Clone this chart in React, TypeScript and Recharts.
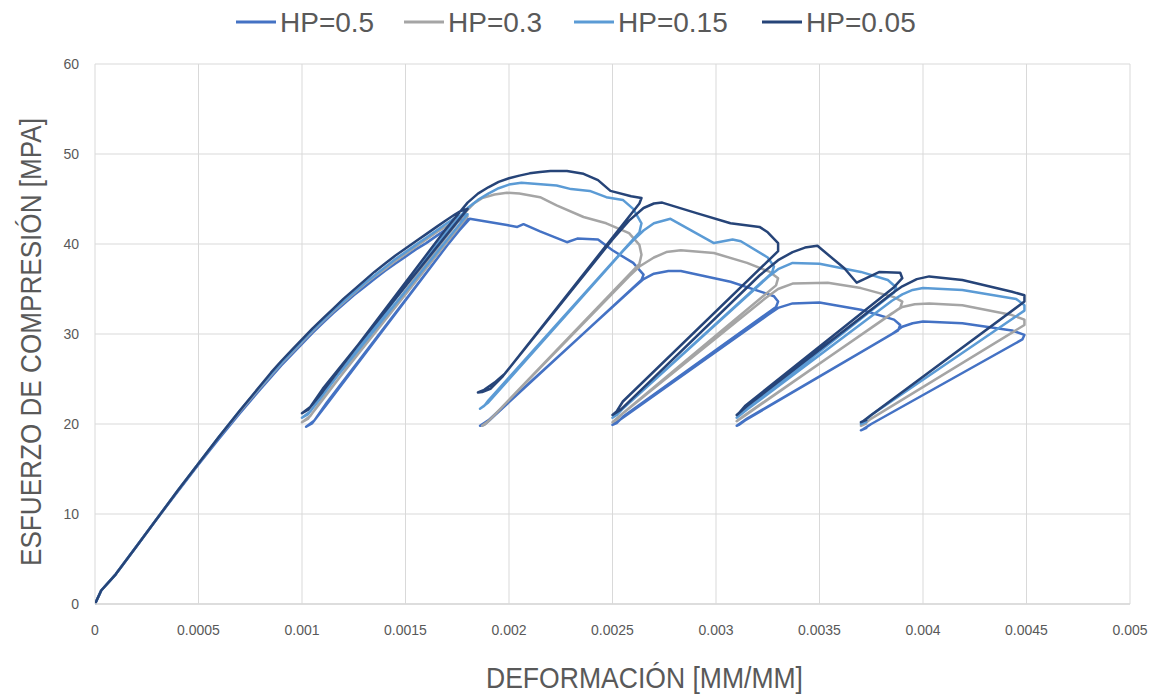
import React from 'react';
import { LineChart, Line, XAxis, YAxis, CartesianGrid } from 'recharts';

type Pt = [number, number];

// Strain axis ticks (mm/mm) and stress axis ticks (MPa)
const xTicks = [0, 0.0005, 0.001, 0.0015, 0.002, 0.0025, 0.003, 0.0035, 0.004, 0.0045, 0.005];
const yTicks = [0, 10, 20, 30, 40, 50, 60];

const seriesNames = ['HP=0.5', 'HP=0.3', 'HP=0.15', 'HP=0.05'];
const seriesColors = ['#4472C4', '#A5A5A5', '#5B9BD5', '#264478'];

// Cyclic compression curves: envelope, unloading to ~20 MPa, reloading onto the next envelope
const hp050: Pt[] = [
  [0, 0], [0.00003, 1.5], [0.0001, 3.3], [0.0002, 6.4], [0.0003, 9.5], [0.0004, 12.5], [0.0005, 15.5],
  [0.0006, 18.4], [0.0007, 21.2], [0.0008, 23.9], [0.00085, 25.2], [0.0009, 26.5], [0.00095, 27.7],
  [0.001, 28.9], [0.00105, 30.1], [0.0011, 31.2], [0.00115, 32.3], [0.0012, 33.3], [0.00125, 34.3],
  [0.0013, 35.2], [0.00135, 36.1], [0.0014, 37], [0.00145, 37.8], [0.0015, 38.6], [0.00155, 39.4],
  [0.0016, 40.1], [0.00165, 40.9], [0.0017, 41.7], [0.00174, 42.3], [0.00177, 42.7], [0.0018, 42.8],
  [0.00112, 22.4], [0.00106, 20.4], [0.00102, 19.7],
  [0.00105, 20.1], [0.00112, 22.2], [0.0017, 39.8], [0.00176, 41.5], [0.00181, 42.8], [0.00199, 42.1],
  [0.00204, 41.9], [0.00207, 42.2], [0.00215, 41.4], [0.00228, 40.2], [0.00233, 40.6], [0.00243, 40.5],
  [0.0025, 39.3], [0.0026, 37.9], [0.00265, 36.6], [0.00264, 36],
  [0.0019, 20.3], [0.00188, 19.9], [0.00186, 19.8],
  [0.0019, 20.4], [0.0026, 35.1], [0.00265, 36.1], [0.0027, 36.7], [0.00277, 37], [0.00283, 37],
  [0.00307, 35.8], [0.00323, 34.6], [0.00328, 34.2], [0.0033, 33.6], [0.00329, 33],
  [0.00255, 20.8], [0.00252, 20.1], [0.0025, 19.9],
  [0.00255, 20.7], [0.00325, 32.1], [0.0033, 32.9], [0.00337, 33.4], [0.0035, 33.5], [0.0037, 32.7],
  [0.00386, 31.6], [0.00389, 31], [0.00388, 30.4],
  [0.00314, 20.4], [0.00311, 19.9], [0.0031, 19.8],
  [0.00315, 20.6], [0.00385, 30], [0.0039, 30.8], [0.00395, 31.2], [0.004, 31.4], [0.00419, 31.2],
  [0.00443, 30.4], [0.00449, 29.9], [0.00448, 29.4],
  [0.00375, 20], [0.00371, 19.4], [0.0037, 19.3], [0.00373, 19.6],
];

const hp030: Pt[] = [
  [0, 0], [0.00003, 1.5], [0.0001, 3.3], [0.0002, 6.4], [0.0003, 9.5], [0.0004, 12.6], [0.0005, 15.6],
  [0.0006, 18.6], [0.0007, 21.4], [0.0008, 24.1], [0.00085, 25.4], [0.0009, 26.7], [0.00095, 27.9],
  [0.001, 29.1], [0.00105, 30.3], [0.0011, 31.4], [0.00115, 32.5], [0.0012, 33.5], [0.00125, 34.5],
  [0.0013, 35.5], [0.00135, 36.4], [0.0014, 37.2], [0.00145, 38.1], [0.0015, 38.9], [0.00155, 39.7],
  [0.0016, 40.5], [0.00165, 41.3], [0.0017, 42], [0.00174, 42.6], [0.00177, 43], [0.0018, 43.1],
  [0.0011, 22.8], [0.00104, 20.9], [0.001, 20.2],
  [0.00103, 20.6], [0.0011, 22.7], [0.0017, 40.9], [0.0018, 43.8], [0.00183, 44.5], [0.00187, 45.1],
  [0.00193, 45.5], [0.00199, 45.7], [0.00205, 45.6], [0.00215, 45.2], [0.00223, 44.3], [0.00236, 43],
  [0.00247, 42.3], [0.00258, 41.2], [0.00263, 39.9], [0.00264, 38.8], [0.00263, 37.8],
  [0.0019, 20.3], [0.00188, 19.9], [0.00187, 19.8],
  [0.0019, 20.3], [0.00258, 36.4], [0.00263, 37.5], [0.0027, 38.5], [0.00276, 39.1], [0.00283, 39.3],
  [0.00299, 39], [0.00315, 37.9], [0.00326, 36.9], [0.0033, 36.2], [0.00329, 35.4],
  [0.00255, 21.2], [0.00252, 20.5], [0.0025, 20.2],
  [0.00254, 21], [0.00324, 34], [0.0033, 35], [0.00337, 35.6], [0.00354, 35.7], [0.0037, 35.1],
  [0.00386, 34.1], [0.0039, 33.6], [0.00389, 32.9],
  [0.00314, 21], [0.00311, 20.5], [0.0031, 20.3],
  [0.00315, 21.1], [0.00385, 32.3], [0.0039, 33], [0.00396, 33.3], [0.00403, 33.4], [0.00419, 33.2],
  [0.00443, 32.1], [0.00449, 31.6], [0.00449, 31],
  [0.00375, 20.6], [0.00371, 19.9], [0.0037, 19.8], [0.00373, 20.1],
];

const hp015: Pt[] = [
  [0, 0], [0.00003, 1.5], [0.0001, 3.3], [0.0002, 6.4], [0.0003, 9.5], [0.0004, 12.6], [0.0005, 15.6],
  [0.0006, 18.6], [0.0007, 21.5], [0.0008, 24.2], [0.00085, 25.5], [0.0009, 26.8], [0.00095, 28],
  [0.001, 29.2], [0.00105, 30.4], [0.0011, 31.5], [0.00115, 32.6], [0.0012, 33.6], [0.00125, 34.6],
  [0.0013, 35.6], [0.00135, 36.5], [0.0014, 37.4], [0.00145, 38.3], [0.0015, 39.1], [0.00155, 39.9],
  [0.0016, 40.7], [0.00165, 41.5], [0.0017, 42.3], [0.00174, 42.9], [0.00177, 43.2], [0.0018, 43.3],
  [0.0011, 23.3], [0.00104, 21.4], [0.001, 20.7],
  [0.00103, 21.1], [0.0011, 23.2], [0.0017, 41.4], [0.0018, 44], [0.00185, 44.9], [0.0019, 45.6],
  [0.00195, 46.2], [0.002, 46.6], [0.00206, 46.8], [0.00223, 46.5], [0.0023, 46.1], [0.00239, 45.9],
  [0.00247, 45.2], [0.00255, 44.9], [0.0026, 43.9], [0.00264, 42.3], [0.00263, 41.3],
  [0.0019, 22.6], [0.00188, 22], [0.00186, 21.7],
  [0.0019, 22.4], [0.00255, 39.2], [0.0026, 40.4], [0.00265, 41.5], [0.0027, 42.3], [0.00278, 42.8],
  [0.00299, 40.1], [0.00308, 40.5], [0.00312, 40.3], [0.00325, 38.5], [0.00328, 37.5], [0.00327, 36.8],
  [0.00255, 21.7], [0.00252, 21], [0.0025, 20.7],
  [0.00254, 21.5], [0.00325, 36.3], [0.0033, 37.2], [0.00337, 37.9], [0.0035, 37.8], [0.0037, 36.9],
  [0.00383, 36], [0.00387, 35.2], [0.00386, 34.6],
  [0.00314, 21.5], [0.00311, 20.9], [0.0031, 20.7],
  [0.00315, 21.6], [0.00385, 33.7], [0.0039, 34.4], [0.00395, 34.9], [0.004, 35.1], [0.00419, 34.9],
  [0.00445, 33.9], [0.00449, 33.2], [0.00449, 32.6],
  [0.00375, 21], [0.00371, 20.2], [0.0037, 20], [0.00373, 20.3],
];

const hp005: Pt[] = [
  [0, 0], [0.00003, 1.5], [0.0001, 3.3], [0.0002, 6.4], [0.0003, 9.5], [0.0004, 12.6], [0.0005, 15.6],
  [0.0006, 18.6], [0.0007, 21.5], [0.0008, 24.3], [0.00085, 25.7], [0.0009, 27], [0.00095, 28.2],
  [0.001, 29.4], [0.00105, 30.6], [0.0011, 31.7], [0.00115, 32.8], [0.0012, 33.9], [0.00125, 34.9],
  [0.0013, 35.9], [0.00135, 36.9], [0.0014, 37.8], [0.00145, 38.7], [0.0015, 39.5], [0.00155, 40.3],
  [0.0016, 41.1], [0.00165, 41.9], [0.0017, 42.7], [0.00174, 43.3], [0.00177, 43.7], [0.0018, 43.9],
  [0.0011, 23.9], [0.00104, 21.9], [0.001, 21.2],
  [0.00103, 21.6], [0.0011, 23.6], [0.0017, 41.8], [0.0018, 44.6], [0.00185, 45.6], [0.0019, 46.3],
  [0.00195, 46.9], [0.002, 47.3], [0.00205, 47.6], [0.0021, 47.85], [0.00215, 48], [0.0022, 48.1],
  [0.00228, 48.1], [0.00236, 47.8], [0.00243, 47.1], [0.00249, 45.9], [0.00259, 45.3], [0.00264, 45.1],
  [0.00263, 44.5],
  [0.00197, 25.3], [0.00191, 23.9], [0.00187, 23.55], [0.00185, 23.5],
  [0.00188, 23.8], [0.00193, 24.6], [0.00198, 25.6], [0.0025, 40.5], [0.00258, 42.6], [0.00265, 44],
  [0.0027, 44.5], [0.00274, 44.6], [0.00291, 43.4], [0.00307, 42.3], [0.00321, 41.9], [0.00325, 41.3],
  [0.0033, 40.1], [0.0033, 39.2],
  [0.00255, 22.5], [0.00252, 21.4], [0.0025, 21],
  [0.00254, 21.6], [0.00321, 36.5], [0.0033, 38.2], [0.00337, 39.1], [0.00343, 39.6], [0.00349, 39.8],
  [0.00362, 37.3], [0.00368, 35.7], [0.00379, 36.9], [0.00389, 36.8], [0.0039, 36.2], [0.00386, 35.2],
  [0.00314, 22], [0.00311, 21.2], [0.0031, 21],
  [0.00315, 22], [0.00385, 34.5], [0.0039, 35.3], [0.00397, 36.1], [0.00403, 36.4], [0.00419, 36],
  [0.00443, 34.7], [0.00449, 34.3], [0.00449, 33.6],
  [0.00375, 21], [0.00371, 20.3], [0.0037, 20.2], [0.00373, 20.5],
];

const seriesPoints: Pt[][] = [hp050, hp030, hp015, hp005];

const xTitle = 'DEFORMACIÓN [MM/MM]';
const yTitle = 'ESFUERZO DE COMPRESIÓN [MPA]';

const textGray = '#595959';
const gridGray = '#d9d9d9';
const FONT = '"Liberation Sans", Arial, sans-serif';

const W = 1161;
const H = 694;

const XAxisTitle = (props: any) => {
  const vb = props.viewBox || {};
  const cx = vb.x + vb.width / 2 + 32;
  const y = vb.y + vb.height - 6;
  return (
    <text x={cx} y={y} textAnchor="middle" fill={textGray} fontSize={29} fontFamily={FONT}
      textLength={317} lengthAdjust="spacingAndGlyphs">
      {xTitle}
    </text>
  );
};

const YAxisTitle = (props: any) => {
  const vb = props.viewBox || {};
  const cx = 31;
  const cy = vb.y + vb.height / 2 + 8;
  return (
    <text x={cx} y={cy} transform={`rotate(-90, ${cx}, ${cy})`} textAnchor="middle"
      dominantBaseline="central" fill={textGray} fontSize={29} fontFamily={FONT}
      textLength={448} lengthAdjust="spacingAndGlyphs">
      {yTitle}
    </text>
  );
};

const legendLayout = [
  { lineX: 236, textX: 280 },
  { lineX: 404, textX: 448 },
  { lineX: 574, textX: 618 },
  { lineX: 762, textX: 806 },
];

const LegendRow = () => (
  <svg width={W} height={48} style={{ position: 'absolute', left: 0, top: 0 }}>
    {seriesNames.map((name, i) => (
      <g key={name}>
        <line x1={legendLayout[i].lineX} x2={legendLayout[i].lineX + 40} y1={22} y2={22}
          stroke={seriesColors[i]} strokeWidth={3} />
        <text x={legendLayout[i].textX} y={32} fill={textGray} fontSize={28} fontFamily={FONT}>
          {name}
        </text>
      </g>
    ))}
  </svg>
);

export default function App() {
  return (
    <div style={{ position: 'absolute', left: 0, top: 0, width: W, height: H, background: '#fff', overflow: 'hidden' }}>
      <LineChart width={W} height={H} margin={{ top: 64, right: 31, bottom: 0, left: 0 }}
        style={{ fontFamily: FONT }}>
        <CartesianGrid stroke={gridGray} strokeWidth={1} />
        <XAxis
          type="number"
          dataKey="x"
          domain={[0, 0.005]}
          ticks={xTicks}
          allowDataOverflow
          height={90}
          tickLine={false}
          tickSize={0}
          tickMargin={21}
          axisLine={{ stroke: gridGray, strokeWidth: 1.5 }}
          tick={{ fill: textGray, fontSize: 14, fontFamily: FONT }}
          label={<XAxisTitle />}
        />
        <YAxis
          type="number"
          domain={[0, 60]}
          ticks={yTicks}
          width={95}
          tickLine={false}
          tickSize={0}
          tickMargin={16}
          axisLine={false}
          tick={{ fill: textGray, fontSize: 14, fontFamily: FONT }}
          label={<YAxisTitle />}
        />
        {seriesPoints.map((pts, i) => (
          <Line
            key={seriesNames[i]}
            name={seriesNames[i]}
            data={pts.map(([x, y]) => ({ x, y }))}
            dataKey="y"
            type="linear"
            stroke={seriesColors[i]}
            strokeWidth={2.5}
            strokeLinejoin="round"
            dot={false}
            activeDot={false}
            isAnimationActive={false}
          />
        ))}
      </LineChart>
      <LegendRow />
    </div>
  );
}
